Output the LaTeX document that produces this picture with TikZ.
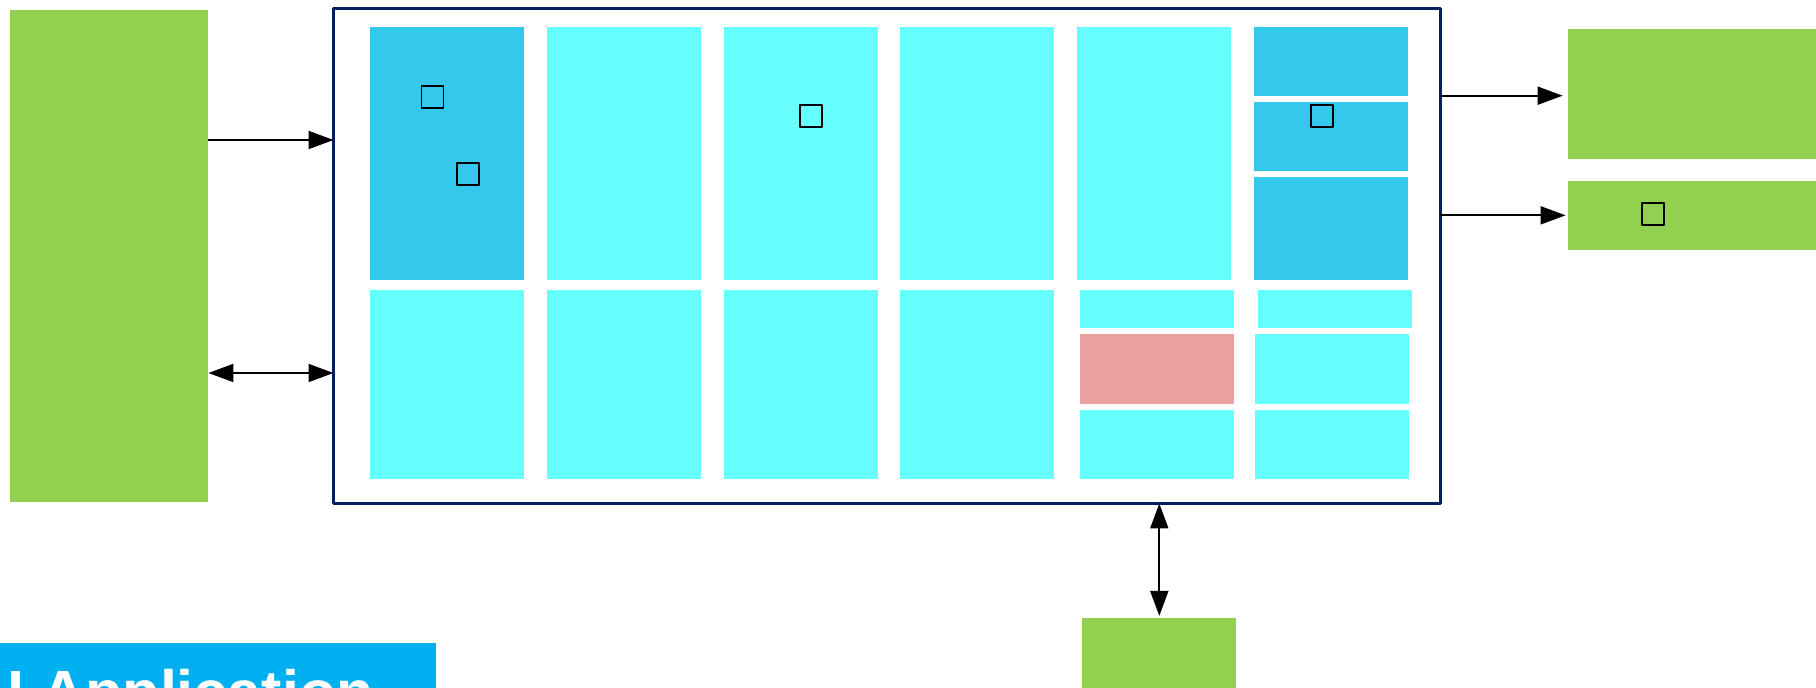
\documentclass[tikz,border=0pt]{standalone}
\usepackage{fontspec}
\setmainfont{Liberation Sans}
\usepackage{tikz}
\usetikzlibrary{arrows.meta, calc}
\definecolor{blockgreen}{HTML}{92D050}
\definecolor{unitcyan}{HTML}{66FFFF}
\definecolor{unitblue}{HTML}{33C8EC}
\definecolor{unitpink}{HTML}{EDA0A0}
\definecolor{framenavy}{HTML}{002060}
\definecolor{bandblue}{HTML}{00B0F0}

\begin{document}
\begin{tikzpicture}[x=0.5pt, y=-0.5pt, >={Triangle[length=12.5pt,width=9pt]}, line join=bevel,
        unit/.style={fill=unitcyan, inner sep=0pt, minimum width=77pt},
        blk/.style={fill=blockgreen, inner sep=0pt},
        tofu/.style={draw, line width=0.8pt, inner sep=0pt, minimum size=11pt},
        link/.style={line width=1pt}]
        \useasboundingbox (0,0) rectangle (1816,688);
        % outer blocks
        \node[blk, minimum width=99pt, minimum height=246pt] (host) at (109,256) {};
        \node[blk, minimum width=124pt, minimum height=64.85pt] (out1) at (1692,94.15) {};
        \node[blk, minimum width=124pt, minimum height=34.65pt] (out2) at (1692,215.35) {};
        \node[blk, minimum width=77pt, minimum height=34.85pt] (mem) at (1159.3,653.15) {};
        \node[draw=framenavy, line width=1.5pt, outer sep=0pt, inner sep=0pt,
              minimum width=553.25pt, minimum height=247.5pt] (chip) at (886.75,256) {};
        % units
        \node[unit, fill=unitblue, minimum height=126.7pt] (top1) at (447,153.3) {};
        \foreach \i [evaluate=\i as \cx using 447+176.8*(\i-1)] in {2,...,5}
            \node[unit, minimum height=126.7pt] (top\i) at (\cx,153.3) {};
        \foreach \i [evaluate=\i as \cx using 447+176.8*(\i-1)] in {1,...,4}
            \node[unit, minimum height=94.25pt] (bot\i) at (\cx,384.75) {};
        \node[unit, fill=unitblue, minimum height=34.75pt] (top6a) at (1331,61.35) {};
        \node[unit, fill=unitblue, minimum height=34.75pt] (top6b) at (1331,136.65) {};
        \node[unit, fill=unitblue, minimum height=51.4pt] (top6c) at (1331,228.6) {};
        \node[unit, minimum height=18.6pt] (bot5a) at (1156.5,309.1) {};
        \node[unit, fill=unitpink, minimum height=34.85pt] (bot5b) at (1156.5,368.85) {};
        \node[unit, minimum height=34.8pt] (bot5c) at (1156.5,444.5) {};
        \node[unit, minimum height=18.6pt] (bot6a) at (1335.15,309.1) {};
        \node[unit, minimum height=34.85pt] (bot6b) at (1332,368.85) {};
        \node[unit, minimum height=34.8pt] (bot6c) at (1332,444.5) {};
        % missing glyphs
        \node[tofu] (g1) at (432.5,97) {};
        \node[tofu] (g2) at (468,174) {};
        \node[tofu] (g3) at (811,116) {};
        \node[tofu] (g4) at (1322,116) {};
        \node[tofu] (g5) at (1653,214) {};
        % links
        \draw[->, link] (host.east |- 0,140) -- (chip.west |- 0,140);
        \draw[<->, link] (host.east |- 0,373) -- (chip.west |- 0,373);
        \draw[->, link, shorten >=2.5pt] (chip.east |- 0,95.7) -- (out1.west |- 0,95.7);
        \draw[->, link, shorten >=1pt] (chip.east |- out2.west) -- (out2.west);
        \draw[<->, link, shorten >=1pt] (chip.south -| mem.north) -- (mem.north);
        % title band
        \node[fill=bandblue, inner sep=0pt, minimum width=218pt, minimum height=22.5pt] (band) at (218,665.5) {};
        \begin{scope}
            \clip (band.north west) rectangle (band.south east);
            \node[anchor=base east, inner sep=0pt, text=white, font=\fontsize{30.5}{36}\selectfont\bfseries]
                (apptext) at (374,714) {I Application};
        \end{scope}
\end{tikzpicture}
\end{document}
